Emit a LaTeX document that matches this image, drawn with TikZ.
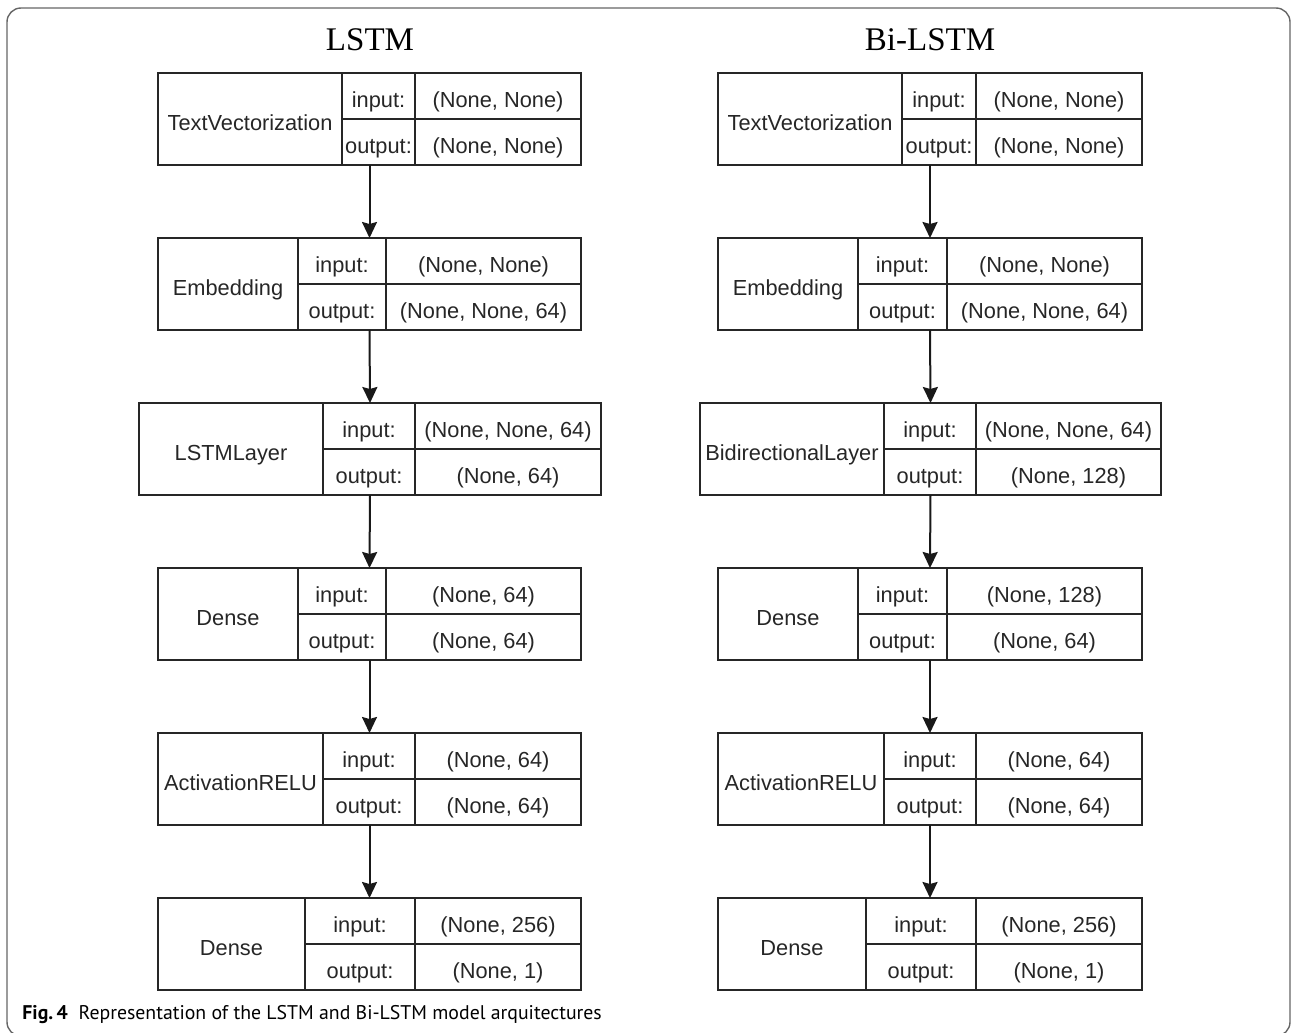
\documentclass[tikz,border=0pt]{standalone}
\usepackage{fontspec}
\setmainfont{Liberation Sans}
\newfontfamily\titlefont{Liberation Serif}
\newfontfamily\capfont{PT Sans}
\usetikzlibrary{arrows.meta}

\tikzset{
  boxline/.style={draw=black!85, line width=1pt},
  celltext/.style={font=\fontsize{10.9}{12}\selectfont, text=black!85,
    inner sep=0pt, text height=7.8pt, text depth=0pt, yshift=-1.7pt},
  flow/.style={draw=black!90, line width=1pt,
    -{Stealth[length=8pt,width=7.5pt,inset=1pt]}},
  title/.style={font=\titlefont\fontsize{16.5}{18}\selectfont, anchor=base},
  frame/.style={draw=black!60, line width=0.7pt, rounded corners=7pt},
}

% #1 name, #2 left, #3 first divider, #4 second divider, #5 right, #6 top
% #7 layer, #8 input shape, #9 output shape
\newcommand{\layerbox}[9]{
  \draw[boxline] (#2,#6) rectangle (#5,#6+92);
  \draw[boxline] (#3,#6) -- (#3,#6+92);
  \draw[boxline] (#4,#6) -- (#4,#6+92);
  \draw[boxline] (#3,#6+46) -- (#5,#6+46);
  \coordinate (#1-top) at ({(#2+#5)/2},#6);
  \coordinate (#1-bot) at ({(#2+#5)/2},#6+92);
  \node[celltext] (#1-name) at ({(#2+#3)/2},#6+46) {#7};
  \node[celltext] (#1-in) at ({(#3+#4)/2},#6+23) {input:};
  \node[celltext] (#1-out) at ({(#3+#4)/2},#6+69) {output:};
  \node[celltext] (#1-inval) at ({(#4+#5)/2},#6+23) {#8};
  \node[celltext] (#1-outval) at ({(#4+#5)/2},#6+69) {#9};
}

\begin{document}
\begin{tikzpicture}[x=0.5pt, y=-0.5pt]
  \useasboundingbox (0,0) rectangle (1292,1033);
  \draw[frame] (7,8) rectangle (1290,1036);

  \node[title] (lstm-title) at (370,50) {LSTM};
  \node[title] (bi-title) at (930,50) {Bi-LSTM};

  % LSTM model
  \layerbox{lstm-tv}{158}{342}{415}{581}{73}{TextVectorization}{(None, None)}{(None, None)}
  \layerbox{lstm-emb}{158}{298}{386}{581}{238}{Embedding}{(None, None)}{(None, None, 64)}
  \layerbox{lstm-rnn}{139}{323}{415}{601}{403}{LSTMLayer}{(None, None, 64)}{(None, 64)}
  \layerbox{lstm-dns}{158}{298}{386}{581}{568}{Dense}{(None, 64)}{(None, 64)}
  \layerbox{lstm-act}{158}{323}{415}{581}{733}{ActivationRELU}{(None, 64)}{(None, 64)}
  \layerbox{lstm-out}{158}{305}{415}{581}{898}{Dense}{(None, 256)}{(None, 1)}

  % Bi-LSTM model
  \layerbox{bi-tv}{718}{902}{976}{1142}{73}{TextVectorization}{(None, None)}{(None, None)}
  \layerbox{bi-emb}{718}{858}{947}{1142}{238}{Embedding}{(None, None)}{(None, None, 64)}
  \layerbox{bi-rnn}{700}{884}{976}{1161}{403}{BidirectionalLayer}{(None, None, 64)}{(None, 128)}
  \layerbox{bi-dns}{718}{858}{947}{1142}{568}{Dense}{(None, 128)}{(None, 64)}
  \layerbox{bi-act}{718}{884}{976}{1142}{733}{ActivationRELU}{(None, 64)}{(None, 64)}
  \layerbox{bi-out}{718}{866}{976}{1142}{898}{Dense}{(None, 256)}{(None, 1)}

  \draw[flow] (lstm-tv-bot) -- (lstm-emb-top);
  \draw[flow] (lstm-emb-bot) -- (lstm-rnn-top);
  \draw[flow] (lstm-rnn-bot) -- (lstm-dns-top);
  \draw[flow] (lstm-dns-bot) -- (lstm-act-top);
  \draw[flow] (lstm-act-bot) -- (lstm-out-top);

  \draw[flow] (bi-tv-bot) -- (bi-emb-top);
  \draw[flow] (bi-emb-bot) -- (bi-rnn-top);
  \draw[flow] (bi-rnn-bot) -- (bi-dns-top);
  \draw[flow] (bi-dns-bot) -- (bi-act-top);
  \draw[flow] (bi-act-bot) -- (bi-out-top);

  \node[anchor=base west, inner sep=0pt, font=\capfont\fontsize{9.9}{11}\selectfont]
    (caption) at (22,1019) {\textbf{Fig.\,4}\hspace{0.55em}Representation of the LSTM and Bi-LSTM model arquitectures};
\end{tikzpicture}
\end{document}
